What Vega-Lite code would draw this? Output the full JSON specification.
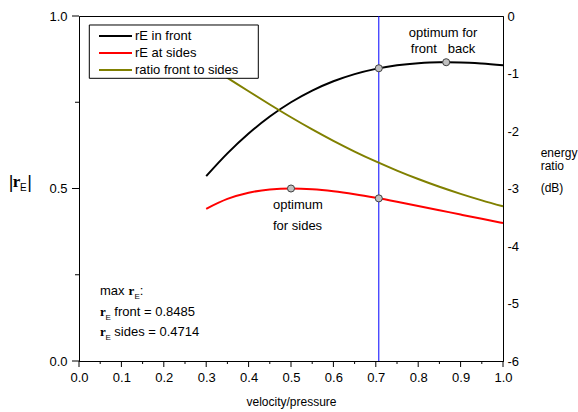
{
  "$schema": "https://vega.github.io/schema/vega-lite/v6.json",
  "width": 424,
  "height": 345,
  "autosize": {"type": "none"},
  "padding": {"left": 79, "top": 16, "right": 75, "bottom": 51},
  "background": "white",
  "config": {
    "view": {"stroke": "black", "strokeWidth": 1},
    "font": "Liberation Sans",
    "axis": {
      "grid": false,
      "domainColor": "black",
      "domainWidth": 1,
      "labelColor": "black",
      "titleColor": "black",
      "labelFont": "Liberation Sans",
      "labelFontSize": 13,
      "titleFont": "Liberation Sans",
      "titleFontWeight": "normal"
    }
  },
  "datasets": {
    "curves": [
      {"k": 0.30, "v": 0.5357, "series": "rE in front"},
      {"k": 0.35, "v": 0.6017, "series": "rE in front"},
      {"k": 0.40, "v": 0.6593, "series": "rE in front"},
      {"k": 0.45, "v": 0.7087, "series": "rE in front"},
      {"k": 0.50, "v": 0.7500, "series": "rE in front"},
      {"k": 0.55, "v": 0.7838, "series": "rE in front"},
      {"k": 0.60, "v": 0.8108, "series": "rE in front"},
      {"k": 0.65, "v": 0.8316, "series": "rE in front"},
      {"k": 0.70, "v": 0.8468, "series": "rE in front"},
      {"k": 0.75, "v": 0.8572, "series": "rE in front"},
      {"k": 0.80, "v": 0.8633, "series": "rE in front"},
      {"k": 0.85, "v": 0.8659, "series": "rE in front"},
      {"k": 0.90, "v": 0.8654, "series": "rE in front"},
      {"k": 0.95, "v": 0.8623, "series": "rE in front"},
      {"k": 1.00, "v": 0.8572, "series": "rE in front"},
      {"k": 0.30, "v": 0.4412, "series": "rE at sides"},
      {"k": 0.35, "v": 0.4698, "series": "rE at sides"},
      {"k": 0.40, "v": 0.4878, "series": "rE at sides"},
      {"k": 0.45, "v": 0.4972, "series": "rE at sides"},
      {"k": 0.50, "v": 0.5000, "series": "rE at sides"},
      {"k": 0.55, "v": 0.4977, "series": "rE at sides"},
      {"k": 0.60, "v": 0.4918, "series": "rE at sides"},
      {"k": 0.65, "v": 0.4833, "series": "rE at sides"},
      {"k": 0.70, "v": 0.4730, "series": "rE at sides"},
      {"k": 0.75, "v": 0.4615, "series": "rE at sides"},
      {"k": 0.80, "v": 0.4494, "series": "rE at sides"},
      {"k": 0.85, "v": 0.4370, "series": "rE at sides"},
      {"k": 0.90, "v": 0.4245, "series": "rE at sides"},
      {"k": 0.95, "v": 0.4121, "series": "rE at sides"},
      {"k": 1.00, "v": 0.4000, "series": "rE at sides"}
    ],
    "ratio": [
      {"k": 0.30, "db": -0.843, "series": "ratio front to sides"},
      {"k": 0.35, "db": -1.075, "series": "ratio front to sides"},
      {"k": 0.40, "db": -1.309, "series": "ratio front to sides"},
      {"k": 0.45, "db": -1.539, "series": "ratio front to sides"},
      {"k": 0.50, "db": -1.761, "series": "ratio front to sides"},
      {"k": 0.55, "db": -1.972, "series": "ratio front to sides"},
      {"k": 0.60, "db": -2.171, "series": "ratio front to sides"},
      {"k": 0.65, "db": -2.357, "series": "ratio front to sides"},
      {"k": 0.70, "db": -2.529, "series": "ratio front to sides"},
      {"k": 0.75, "db": -2.688, "series": "ratio front to sides"},
      {"k": 0.80, "db": -2.835, "series": "ratio front to sides"},
      {"k": 0.85, "db": -2.970, "series": "ratio front to sides"},
      {"k": 0.90, "db": -3.093, "series": "ratio front to sides"},
      {"k": 0.95, "db": -3.206, "series": "ratio front to sides"},
      {"k": 1.00, "db": -3.310, "series": "ratio front to sides"}
    ],
    "markers": [
      {"k": 0.7071, "v": 0.8485},
      {"k": 0.866, "v": 0.866},
      {"k": 0.5, "v": 0.5},
      {"k": 0.7071, "v": 0.4714}
    ],
    "vline": [{"k": 0.7071}],
    "xMajor": [{"k": 0}, {"k": 0.1}, {"k": 0.2}, {"k": 0.3}, {"k": 0.4}, {"k": 0.5}, {"k": 0.6}, {"k": 0.7}, {"k": 0.8}, {"k": 0.9}, {"k": 1}],
    "xMinor": [{"k": 0.05}, {"k": 0.15}, {"k": 0.25}, {"k": 0.35}, {"k": 0.45}, {"k": 0.55}, {"k": 0.65}, {"k": 0.75}, {"k": 0.85}, {"k": 0.95}],
    "yMajor": [{"v": 0}, {"v": 0.5}, {"v": 1}],
    "yMinor": [{"v": 0.25}, {"v": 0.75}],
    "box": [{"x1": 0.0243, "x2": 0.4229, "y1": -0.1565, "y2": -1.0835}],
    "plainLeft": [
      {"x": 0.4575, "y": 0.4522, "t": "optimum"},
      {"x": 0.4575, "y": 0.3922, "t": "for sides"},
      {"x": 0.0495, "y": 0.2038, "t": "max"},
      {"x": 0.1434, "y": 0.2038, "t": ":"},
      {"x": 0.0833, "y": 0.1429, "t": "front = 0.8485"},
      {"x": 0.0833, "y": 0.0841, "t": "sides = 0.4714"}
    ],
    "plainCenter": [
      {"x": 0.8585, "y": 0.9507, "t": "optimum for"},
      {"x": 0.8585, "y": 0.9043, "t": "front\u00a0\u00a0 back"}
    ],
    "boldR": [
      {"x": 0.1167, "y": 0.2038, "t": "r"},
      {"x": 0.0495, "y": 0.1429, "t": "r"},
      {"x": 0.0495, "y": 0.0841, "t": "r"}
    ],
    "subE": [
      {"x": 0.1309, "y": 0.1864, "t": "E"},
      {"x": 0.0625, "y": 0.1255, "t": "E"},
      {"x": 0.0625, "y": 0.0667, "t": "E"}
    ],
    "rightTitle": [
      {"x": 1.0889, "y": 0.6029, "t": "energy"},
      {"x": 1.0889, "y": 0.5652, "t": "ratio"},
      {"x": 1.0889, "y": 0.5014, "t": "(dB)"}
    ],
    "titleBars": [
      {"x": -0.1604, "y": 0.5014, "t": "|"},
      {"x": -0.1167, "y": 0.5014, "t": "|"}
    ],
    "titleR": [{"x": -0.1564, "y": 0.5043, "t": "r"}],
    "titleE": [{"x": -0.1392, "y": 0.4928, "t": "E"}]
  },
  "layer": [
    {
      "layer": [
        {
          "data": {"name": "vline"},
          "mark": {"type": "rule", "color": "#0000FF", "strokeWidth": 1},
          "encoding": {
            "x": {"field": "k", "type": "quantitative", "scale": {"domain": [0, 1], "nice": false}}
          }
        },
        {
          "data": {"name": "xMajor"},
          "mark": {"type": "rule", "color": "black", "strokeWidth": 1, "clip": false},
          "encoding": {
            "x": {"field": "k", "type": "quantitative", "scale": {"domain": [0, 1], "nice": false}},
            "y": {"datum": 0, "type": "quantitative", "scale": {"domain": [0, 1], "nice": false}},
            "y2": {"datum": -0.0174}
          }
        },
        {
          "data": {"name": "xMinor"},
          "mark": {"type": "rule", "color": "black", "strokeWidth": 1, "clip": false},
          "encoding": {
            "x": {"field": "k", "type": "quantitative", "scale": {"domain": [0, 1], "nice": false}},
            "y": {"datum": 0, "type": "quantitative", "scale": {"domain": [0, 1], "nice": false}},
            "y2": {"datum": -0.0087}
          }
        },
        {
          "data": {"name": "yMajor"},
          "mark": {"type": "rule", "color": "black", "strokeWidth": 1, "clip": false},
          "encoding": {
            "y": {"field": "v", "type": "quantitative", "scale": {"domain": [0, 1], "nice": false}},
            "x": {"datum": 0, "type": "quantitative", "scale": {"domain": [0, 1], "nice": false}},
            "x2": {"datum": -0.0165}
          }
        },
        {
          "data": {"name": "yMinor"},
          "mark": {"type": "rule", "color": "black", "strokeWidth": 1, "clip": false},
          "encoding": {
            "y": {"field": "v", "type": "quantitative", "scale": {"domain": [0, 1], "nice": false}},
            "x": {"datum": 0, "type": "quantitative", "scale": {"domain": [0, 1], "nice": false}},
            "x2": {"datum": -0.0094}
          }
        },
        {
          "data": {"name": "curves"},
          "mark": {"type": "line", "strokeWidth": 2, "interpolate": "monotone"},
          "encoding": {
            "x": {
              "field": "k", "type": "quantitative",
              "scale": {"domain": [0, 1], "nice": false},
              "axis": {
                "values": [0, 0.1, 0.2, 0.3, 0.4, 0.5, 0.6, 0.7, 0.8, 0.9, 1],
                "format": ".1f",
                "ticks": true,
                "tickOpacity": 0,
                "tickSize": 6,
                "labelPadding": 4,
                "labelOverlap": false,
                "labelFlush": false,
                "title": "velocity/pressure",
                "titleFontSize": 12,
                "titlePadding": 12
              }
            },
            "y": {
              "field": "v", "type": "quantitative",
              "scale": {"domain": [0, 1], "nice": false},
              "axis": {
                "values": [0, 0.5, 1],
                "format": ".1f",
                "ticks": true,
                "tickOpacity": 0,
                "tickSize": 7,
                "labelPadding": 5,
                "labelOverlap": false,
                "title": null
              }
            },
            "color": {
              "field": "series", "type": "nominal",
              "scale": {"domain": ["rE in front", "rE at sides", "ratio front to sides"], "range": ["black", "#FF0000", "#808000"]},
              "legend": {
                "orient": "none",
                "legendX": 19,
                "legendY": 12.5,
                "title": null,
                "symbolType": "stroke",
                "symbolSize": 1089,
                "symbolStrokeWidth": 2,
                "labelFont": "Liberation Sans",
                "labelFontSize": 13,
                "labelColor": "black",
                "clipHeight": 15,
                "rowPadding": 2,
                "padding": 0,
                "labelOffset": 2
              }
            }
          }
        },
        {
          "data": {"name": "markers"},
          "mark": {"type": "point", "filled": true, "fill": "#C0C0C0", "stroke": "#404040", "strokeWidth": 1, "size": 50, "opacity": 1},
          "encoding": {
            "x": {"field": "k", "type": "quantitative", "scale": {"domain": [0, 1], "nice": false}},
            "y": {"field": "v", "type": "quantitative", "scale": {"domain": [0, 1], "nice": false}}
          }
        },
        {
          "data": {"name": "plainLeft"},
          "mark": {"type": "text", "align": "left", "baseline": "middle", "font": "Liberation Sans", "fontSize": 13, "color": "black"},
          "encoding": {
            "x": {"field": "x", "type": "quantitative", "scale": {"domain": [0, 1], "nice": false}},
            "y": {"field": "y", "type": "quantitative", "scale": {"domain": [0, 1], "nice": false}},
            "text": {"field": "t"}
          }
        },
        {
          "data": {"name": "plainCenter"},
          "mark": {"type": "text", "align": "center", "baseline": "middle", "font": "Liberation Sans", "fontSize": 13, "color": "black"},
          "encoding": {
            "x": {"field": "x", "type": "quantitative", "scale": {"domain": [0, 1], "nice": false}},
            "y": {"field": "y", "type": "quantitative", "scale": {"domain": [0, 1], "nice": false}},
            "text": {"field": "t"}
          }
        },
        {
          "data": {"name": "boldR"},
          "mark": {"type": "text", "align": "left", "baseline": "middle", "font": "Liberation Serif", "fontWeight": "bold", "fontSize": 13, "color": "black"},
          "encoding": {
            "x": {"field": "x", "type": "quantitative", "scale": {"domain": [0, 1], "nice": false}},
            "y": {"field": "y", "type": "quantitative", "scale": {"domain": [0, 1], "nice": false}},
            "text": {"field": "t"}
          }
        },
        {
          "data": {"name": "subE"},
          "mark": {"type": "text", "align": "left", "baseline": "middle", "font": "Liberation Sans", "fontSize": 8, "color": "black"},
          "encoding": {
            "x": {"field": "x", "type": "quantitative", "scale": {"domain": [0, 1], "nice": false}},
            "y": {"field": "y", "type": "quantitative", "scale": {"domain": [0, 1], "nice": false}},
            "text": {"field": "t"}
          }
        },
        {
          "data": {"name": "rightTitle"},
          "mark": {"type": "text", "align": "left", "baseline": "middle", "font": "Liberation Sans", "fontSize": 12, "color": "black"},
          "encoding": {
            "x": {"field": "x", "type": "quantitative", "scale": {"domain": [0, 1], "nice": false}},
            "y": {"field": "y", "type": "quantitative", "scale": {"domain": [0, 1], "nice": false}},
            "text": {"field": "t"}
          }
        },
        {
          "data": {"name": "titleBars"},
          "mark": {"type": "text", "align": "center", "baseline": "alphabetic", "font": "Liberation Sans", "fontSize": 18, "color": "black"},
          "encoding": {
            "x": {"field": "x", "type": "quantitative", "scale": {"domain": [0, 1], "nice": false}},
            "y": {"field": "y", "type": "quantitative", "scale": {"domain": [0, 1], "nice": false}},
            "text": {"field": "t"}
          }
        },
        {
          "data": {"name": "titleR"},
          "mark": {"type": "text", "align": "left", "baseline": "alphabetic", "font": "Liberation Serif", "fontWeight": "bold", "fontSize": 17, "color": "black"},
          "encoding": {
            "x": {"field": "x", "type": "quantitative", "scale": {"domain": [0, 1], "nice": false}},
            "y": {"field": "y", "type": "quantitative", "scale": {"domain": [0, 1], "nice": false}},
            "text": {"field": "t"}
          }
        },
        {
          "data": {"name": "titleE"},
          "mark": {"type": "text", "align": "left", "baseline": "alphabetic", "font": "Liberation Sans", "fontSize": 10, "color": "black"},
          "encoding": {
            "x": {"field": "x", "type": "quantitative", "scale": {"domain": [0, 1], "nice": false}},
            "y": {"field": "y", "type": "quantitative", "scale": {"domain": [0, 1], "nice": false}},
            "text": {"field": "t"}
          }
        }
      ]
    },
    {
      "layer": [
        {
          "data": {"name": "ratio"},
          "mark": {"type": "line", "strokeWidth": 2, "interpolate": "monotone"},
          "encoding": {
            "x": {"field": "k", "type": "quantitative", "scale": {"domain": [0, 1], "nice": false}},
            "y": {
              "field": "db", "type": "quantitative",
              "scale": {"domain": [-6, 0], "nice": false, "zero": false},
              "axis": {
                "orient": "right",
                "values": [0, -1, -2, -3, -4, -5, -6],
                "labelExpr": "'' + datum.value",
                "ticks": false,
                "labelPadding": 4,
                "title": null
              }
            },
            "color": {
              "field": "series", "type": "nominal",
              "scale": {"domain": ["rE in front", "rE at sides", "ratio front to sides"], "range": ["black", "#FF0000", "#808000"]}
            }
          }
        },
        {
          "data": {"name": "box"},
          "mark": {"type": "rect", "fill": "white", "stroke": "black", "strokeWidth": 1},
          "encoding": {
            "x": {"field": "x1", "type": "quantitative", "scale": {"domain": [0, 1], "nice": false}},
            "x2": {"field": "x2"},
            "y": {"field": "y1", "type": "quantitative", "scale": {"domain": [-6, 0], "nice": false, "zero": false}},
            "y2": {"field": "y2"}
          }
        }
      ]
    }
  ],
  "resolve": {"scale": {"y": "independent"}}
}
